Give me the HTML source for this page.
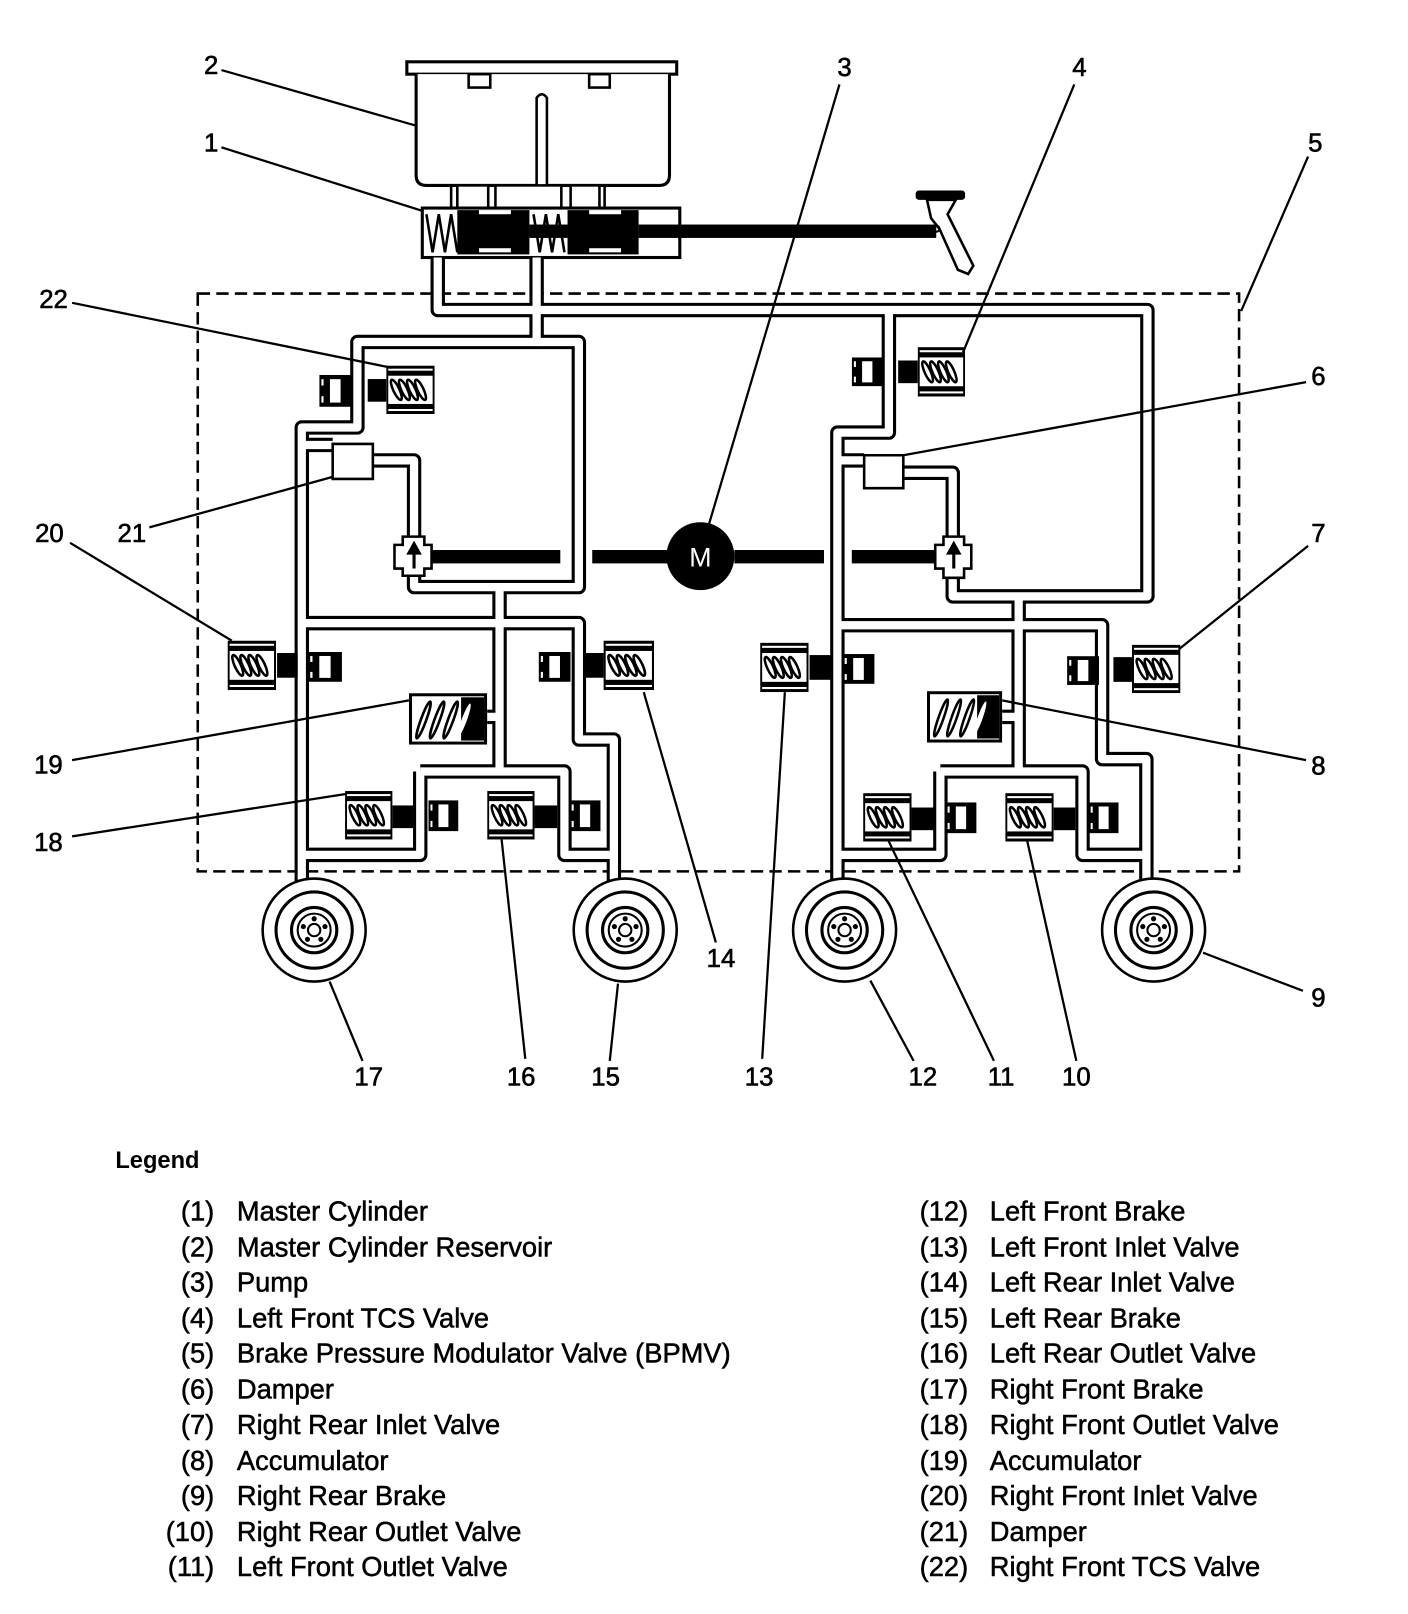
<!DOCTYPE html>
<html><head><meta charset="utf-8"><style>html,body{margin:0;padding:0;background:#fff}svg{display:block}</style></head><body>
<svg width="1408" height="1614" viewBox="0 0 1367 1567" preserveAspectRatio="none" xmlns="http://www.w3.org/2000/svg" font-family="Liberation Sans, Arial, sans-serif">
<defs>
<symbol id="sp" viewBox="0 0 48 48" preserveAspectRatio="none">
<rect x="0" y="0" width="48" height="48" fill="#000"/>
<rect x="2" y="3" width="44" height="2" fill="#fff"/>
<rect x="2" y="43" width="44" height="2" fill="#fff"/>
<rect x="2" y="10" width="44" height="28" fill="#fff"/>
<g fill="none" stroke="#000" stroke-width="2.5">
<ellipse cx="10" cy="24" rx="3" ry="11" transform="rotate(-25 10 24)"/>
<ellipse cx="18" cy="24" rx="3" ry="11" transform="rotate(-25 18 24)"/>
<ellipse cx="26" cy="24" rx="3" ry="11" transform="rotate(-25 26 24)"/>
<ellipse cx="34" cy="24" rx="3" ry="11" transform="rotate(-25 34 24)"/>
</g>
</symbol>
<symbol id="blk" viewBox="0 0 30 30" preserveAspectRatio="none">
<rect width="30" height="30" fill="#000"/>
<rect x="10" y="4" width="10" height="22" fill="#fff"/>
<rect x="2" y="4" width="2" height="6" fill="#fff"/>
<rect x="2" y="20" width="2" height="6" fill="#fff"/>
</symbol>
<symbol id="acc" viewBox="0 0 75 50" preserveAspectRatio="none">
<rect x="1.5" y="1.5" width="72" height="47" fill="#fff" stroke="#000" stroke-width="3"/>
<rect x="50" y="4" width="22" height="42" fill="#000"/>
<g fill="none" stroke="#000" stroke-width="2.5">
<ellipse cx="14" cy="26" rx="2.5" ry="19" transform="rotate(20 14 26)"/>
<ellipse cx="27" cy="26" rx="2.5" ry="19" transform="rotate(20 27 26)"/>
<ellipse cx="40" cy="26" rx="2.5" ry="19" transform="rotate(20 40 26)"/>
</g>
<ellipse cx="53" cy="26" rx="2.5" ry="17" transform="rotate(20 53 26)" fill="#fff"/>
</symbol>
<symbol id="wh" viewBox="-52 -52 104 104">
<circle r="50" fill="#fff" stroke="#000" stroke-width="2.5"/>
<circle r="37" fill="none" stroke="#000" stroke-width="3"/>
<circle r="22" fill="none" stroke="#000" stroke-width="3"/>
<circle r="16" fill="none" stroke="#000" stroke-width="2"/>
<circle r="6" fill="none" stroke="#000" stroke-width="2"/>
<circle cx="0" cy="-11" r="2.5" fill="#000"/><circle cx="10.5" cy="-3.4" r="2.5" fill="#000"/><circle cx="6.5" cy="9" r="2.5" fill="#000"/><circle cx="-6.5" cy="9" r="2.5" fill="#000"/><circle cx="-10.5" cy="-3.4" r="2.5" fill="#000"/>
</symbol>
</defs>

<rect x="192" y="285" width="1011" height="561" fill="none" stroke="#000" stroke-width="2.5" stroke-dasharray="12 6"/>

<rect x="395" y="60" width="262" height="12" fill="#fff" stroke="#000" stroke-width="3"/>
<path d="M404,72 V170 Q404,180 414,180 H640 Q650,180 650,170 V72" fill="#fff" stroke="#000" stroke-width="3"/>
<rect x="455" y="72" width="21" height="13" fill="#fff" stroke="#000" stroke-width="2.5"/>
<rect x="572" y="72" width="20" height="13" fill="#fff" stroke="#000" stroke-width="2.5"/>
<path d="M521,180 V95 Q526,88 531,95 V180" fill="#fff" stroke="#000" stroke-width="2.5"/>
<g fill="#fff" stroke="#000" stroke-width="2.5">
<rect x="444" y="180" width="30" height="22"/>
<rect x="481" y="180" width="64" height="22"/>
<rect x="554" y="180" width="28" height="22"/>
</g>
<path d="M438,180 V202 M587,180 V202" stroke="#000" stroke-width="2.5"/>
<rect x="410" y="202" width="250" height="48" fill="#fff" stroke="#000" stroke-width="3"/>
<rect x="444" y="204" width="70" height="43" fill="#000"/>
<rect x="551" y="204" width="69" height="43" fill="#000"/>
<rect x="465" y="204" width="31" height="4" fill="#fff"/><rect x="465" y="241" width="31" height="4" fill="#fff"/>
<rect x="572" y="204" width="31" height="4" fill="#fff"/><rect x="572" y="241" width="31" height="4" fill="#fff"/>
<rect x="514" y="218" width="37" height="13" fill="#000"/>
<g fill="none" stroke="#000" stroke-width="2.5">
<path d="M414,208 L420,245 L426,208 L432,245 L438,208 L444,245"/>
<path d="M518,208 L524,245 L530,208 L536,245 L542,208 L548,245"/>
</g>
<rect x="620" y="218" width="289" height="13" fill="#000"/>
<rect x="889" y="185" width="48" height="9" rx="3" fill="#000"/>
<path d="M900,194 L928,194 L920,208 L945,258 L940,266 L930,262 L912,222 L904,212 Z" fill="#fff" stroke="#000" stroke-width="2.5"/>
<circle cx="909" cy="222" r="3" fill="none" stroke="#000" stroke-width="2"/>

<g fill="none" stroke-linejoin="round">
<g stroke="#000" stroke-width="14">
<path id="p1" d="M425,250 V301 H1114 V579 H925 V559"/>
<path id="p2" d="M521,250 V332 H347 V415 H293 V870"/>
<path id="p3" d="M521,332 H562 V570 H402 V559"/>
<path id="p4" d="M293,432 H323 M362,447 H402 V521"/>
<path id="p5" d="M485,570 V749"/>
<path id="p6" d="M293,605 H562 V718 H596 V862"/>
<path id="p7" d="M408,749 H548 V830 H596 M408,749 V830 H293"/>
<path id="p8" d="M473,696 H485"/>
<path id="p9" d="M863,301 V420 H813 V870"/>
<path id="p10" d="M813,447 H839 M877,459 H925 V521"/>
<path id="p11" d="M989,579 V749"/>
<path id="p12" d="M813,607 H1070 V737 H1113 V862"/>
<path id="p13" d="M913,749 H1051 V830 H1113 M913,749 V830 H813"/>
<path id="p14" d="M973,696 H989"/>
</g>
<g stroke="#fff" stroke-width="8">
<use href="#p1"/><use href="#p2"/><use href="#p3"/><use href="#p4"/><use href="#p5"/><use href="#p6"/><use href="#p7"/>
<use href="#p8"/><use href="#p9"/><use href="#p10"/><use href="#p11"/><use href="#p12"/><use href="#p13"/><use href="#p14"/>
</g>
</g>

<path d="M323,431 H362 V465 H323 Z" fill="#fff" stroke="#000" stroke-width="2.5"/>
<path d="M839,442 H877 V474 H839 Z" fill="#fff" stroke="#000" stroke-width="2.5"/>

<g fill="#fff" stroke="#000" stroke-width="2.5">
<path d="M391,521 H412 V529 H419 V552 H412 V559 H391 V552 H383 V529 H391 Z"/>
<path d="M916,521 H936 V529 H943 V552 H936 V561 H916 V552 H908 V529 H916 Z"/>
</g>
<path d="M402,552 V535 M397,537 L402,528 L407,537 Z" stroke="#000" stroke-width="3" fill="#000"/>
<path d="M926,552 V535 M921,537 L926,528 L931,537 Z" stroke="#000" stroke-width="3" fill="#000"/>
<g fill="#000">
<rect x="419" y="534" width="125" height="13"/>
<rect x="575" y="534" width="73" height="13"/>
<rect x="713" y="534" width="87" height="13"/>
<rect x="827" y="534" width="81" height="13"/>
<circle cx="680" cy="540" r="33"/>
</g>
<text x="680" y="550" font-size="26" fill="#fff" text-anchor="middle">M</text>

<use href="#sp" x="375" y="355" width="47" height="47"/>
<use href="#sp" x="891" y="337" width="46" height="48"/>
<use href="#sp" x="221" y="622" width="47" height="48"/>
<use href="#sp" x="586" y="622" width="49" height="48"/>
<use href="#sp" x="738" y="624" width="47" height="48"/>
<use href="#sp" x="1099" y="626" width="47" height="47"/>
<use href="#sp" x="335" y="768" width="46" height="47"/>
<use href="#sp" x="473" y="768" width="46" height="47"/>
<use href="#sp" x="838" y="770" width="47" height="47"/>
<use href="#sp" x="976" y="770" width="47" height="47"/>
<g fill="#000">
<rect x="357" y="368" width="18" height="22"/>
<rect x="872" y="350" width="19" height="22"/>
<rect x="269" y="634" width="20" height="24"/>
<rect x="568" y="634" width="18" height="24"/>
<rect x="786" y="636" width="21" height="24"/>
<rect x="1081" y="638" width="18" height="24"/>
<rect x="381" y="782" width="20" height="22"/>
<rect x="519" y="782" width="22" height="22"/>
<rect x="885" y="784" width="23" height="22"/>
<rect x="1023" y="784" width="21" height="22"/>
</g>
<use href="#blk" x="310" y="364" width="31" height="31"/>
<use href="#blk" x="827" y="347" width="30" height="28"/>
<use href="#blk" x="299" y="633" width="33" height="29"/>
<use href="#blk" x="523" y="633" width="31" height="29"/>
<use href="#blk" x="818" y="635" width="31" height="29"/>
<use href="#blk" x="1036" y="637" width="31" height="28"/>
<use href="#blk" x="416" y="777" width="29" height="30"/>
<use href="#blk" x="553" y="777" width="30" height="30"/>
<use href="#blk" x="918" y="779" width="30" height="30"/>
<use href="#blk" x="1057" y="779" width="29" height="30"/>
<use href="#acc" x="397" y="673" width="76" height="50"/>
<use href="#acc" x="900" y="671" width="73" height="50"/>

<use href="#wh" x="253" y="851" width="104" height="104"/>
<use href="#wh" x="555" y="851" width="104" height="104"/>
<use href="#wh" x="768" y="851" width="104" height="104"/>
<use href="#wh" x="1068" y="851" width="104" height="104"/>

<g stroke="#000" stroke-width="2.2" fill="none">
<path d="M215,68 L404,122"/>
<path d="M215,143 L411,205"/>
<path d="M815,82 L688,510"/>
<path d="M1043,82 L935,342"/>
<path d="M1270,152 L1205,302"/>
<path d="M70,294 L380,357"/>
<path d="M1268,371 L877,442"/>
<path d="M145,512 L323,463"/>
<path d="M68,527 L225,622"/>
<path d="M1270,530 L1145,630"/>
<path d="M70,738 L397,680"/>
<path d="M1268,738 L973,680"/>
<path d="M70,812 L335,771"/>
<path d="M695,915 L625,672"/>
<path d="M510,1028 L487,815"/>
<path d="M592,1030 L600,955"/>
<path d="M352,1030 L320,953"/>
<path d="M740,1028 L762,672"/>
<path d="M887,1030 L845,952"/>
<path d="M965,1030 L862,815"/>
<path d="M1045,1030 L997,815"/>
<path d="M1265,962 L1168,925"/>
</g>
<g font-size="25" fill="#000" text-anchor="middle" stroke="#000" stroke-width="0.6">
<text x="205" y="72">2</text>
<text x="205" y="147">1</text>
<text x="820" y="74">3</text>
<text x="1048" y="74">4</text>
<text x="1277" y="147">5</text>
<text x="52" y="299">22</text>
<text x="1280" y="374">6</text>
<text x="128" y="526">21</text>
<text x="48" y="526">20</text>
<text x="1280" y="526">7</text>
<text x="47" y="751">19</text>
<text x="1280" y="752">8</text>
<text x="47" y="826">18</text>
<text x="700" y="939">14</text>
<text x="506" y="1054">16</text>
<text x="588" y="1054">15</text>
<text x="358" y="1054">17</text>
<text x="737" y="1054">13</text>
<text x="896" y="1054">12</text>
<text x="972" y="1054">11</text>
<text x="1045" y="1054">10</text>
<text x="1280" y="977">9</text>
</g>

<text x="112" y="1134" font-size="23" font-weight="bold">Legend</text>
<g font-size="26.5" fill="#000" stroke="#000" stroke-width="0.5">
<g text-anchor="end">
<text x="208" y="1185">(1)</text><text x="208" y="1220">(2)</text><text x="208" y="1254">(3)</text><text x="208" y="1289">(4)</text><text x="208" y="1323">(5)</text><text x="208" y="1358">(6)</text><text x="208" y="1392">(7)</text><text x="208" y="1427">(8)</text><text x="208" y="1461">(9)</text><text x="208" y="1496">(10)</text><text x="208" y="1530">(11)</text>
<text x="940" y="1185">(12)</text><text x="940" y="1220">(13)</text><text x="940" y="1254">(14)</text><text x="940" y="1289">(15)</text><text x="940" y="1323">(16)</text><text x="940" y="1358">(17)</text><text x="940" y="1392">(18)</text><text x="940" y="1427">(19)</text><text x="940" y="1461">(20)</text><text x="940" y="1496">(21)</text><text x="940" y="1530">(22)</text>
</g>
<text x="230" y="1185">Master Cylinder</text>
<text x="230" y="1220">Master Cylinder Reservoir</text>
<text x="230" y="1254">Pump</text>
<text x="230" y="1289">Left Front TCS Valve</text>
<text x="230" y="1323">Brake Pressure Modulator Valve (BPMV)</text>
<text x="230" y="1358">Damper</text>
<text x="230" y="1392">Right Rear Inlet Valve</text>
<text x="230" y="1427">Accumulator</text>
<text x="230" y="1461">Right Rear Brake</text>
<text x="230" y="1496">Right Rear Outlet Valve</text>
<text x="230" y="1530">Left Front Outlet Valve</text>
<text x="961" y="1185">Left Front Brake</text>
<text x="961" y="1220">Left Front Inlet Valve</text>
<text x="961" y="1254">Left Rear Inlet Valve</text>
<text x="961" y="1289">Left Rear Brake</text>
<text x="961" y="1323">Left Rear Outlet Valve</text>
<text x="961" y="1358">Right Front Brake</text>
<text x="961" y="1392">Right Front Outlet Valve</text>
<text x="961" y="1427">Accumulator</text>
<text x="961" y="1461">Right Front Inlet Valve</text>
<text x="961" y="1496">Damper</text>
<text x="961" y="1530">Right Front TCS Valve</text>
</g>
</svg>
</body></html>
